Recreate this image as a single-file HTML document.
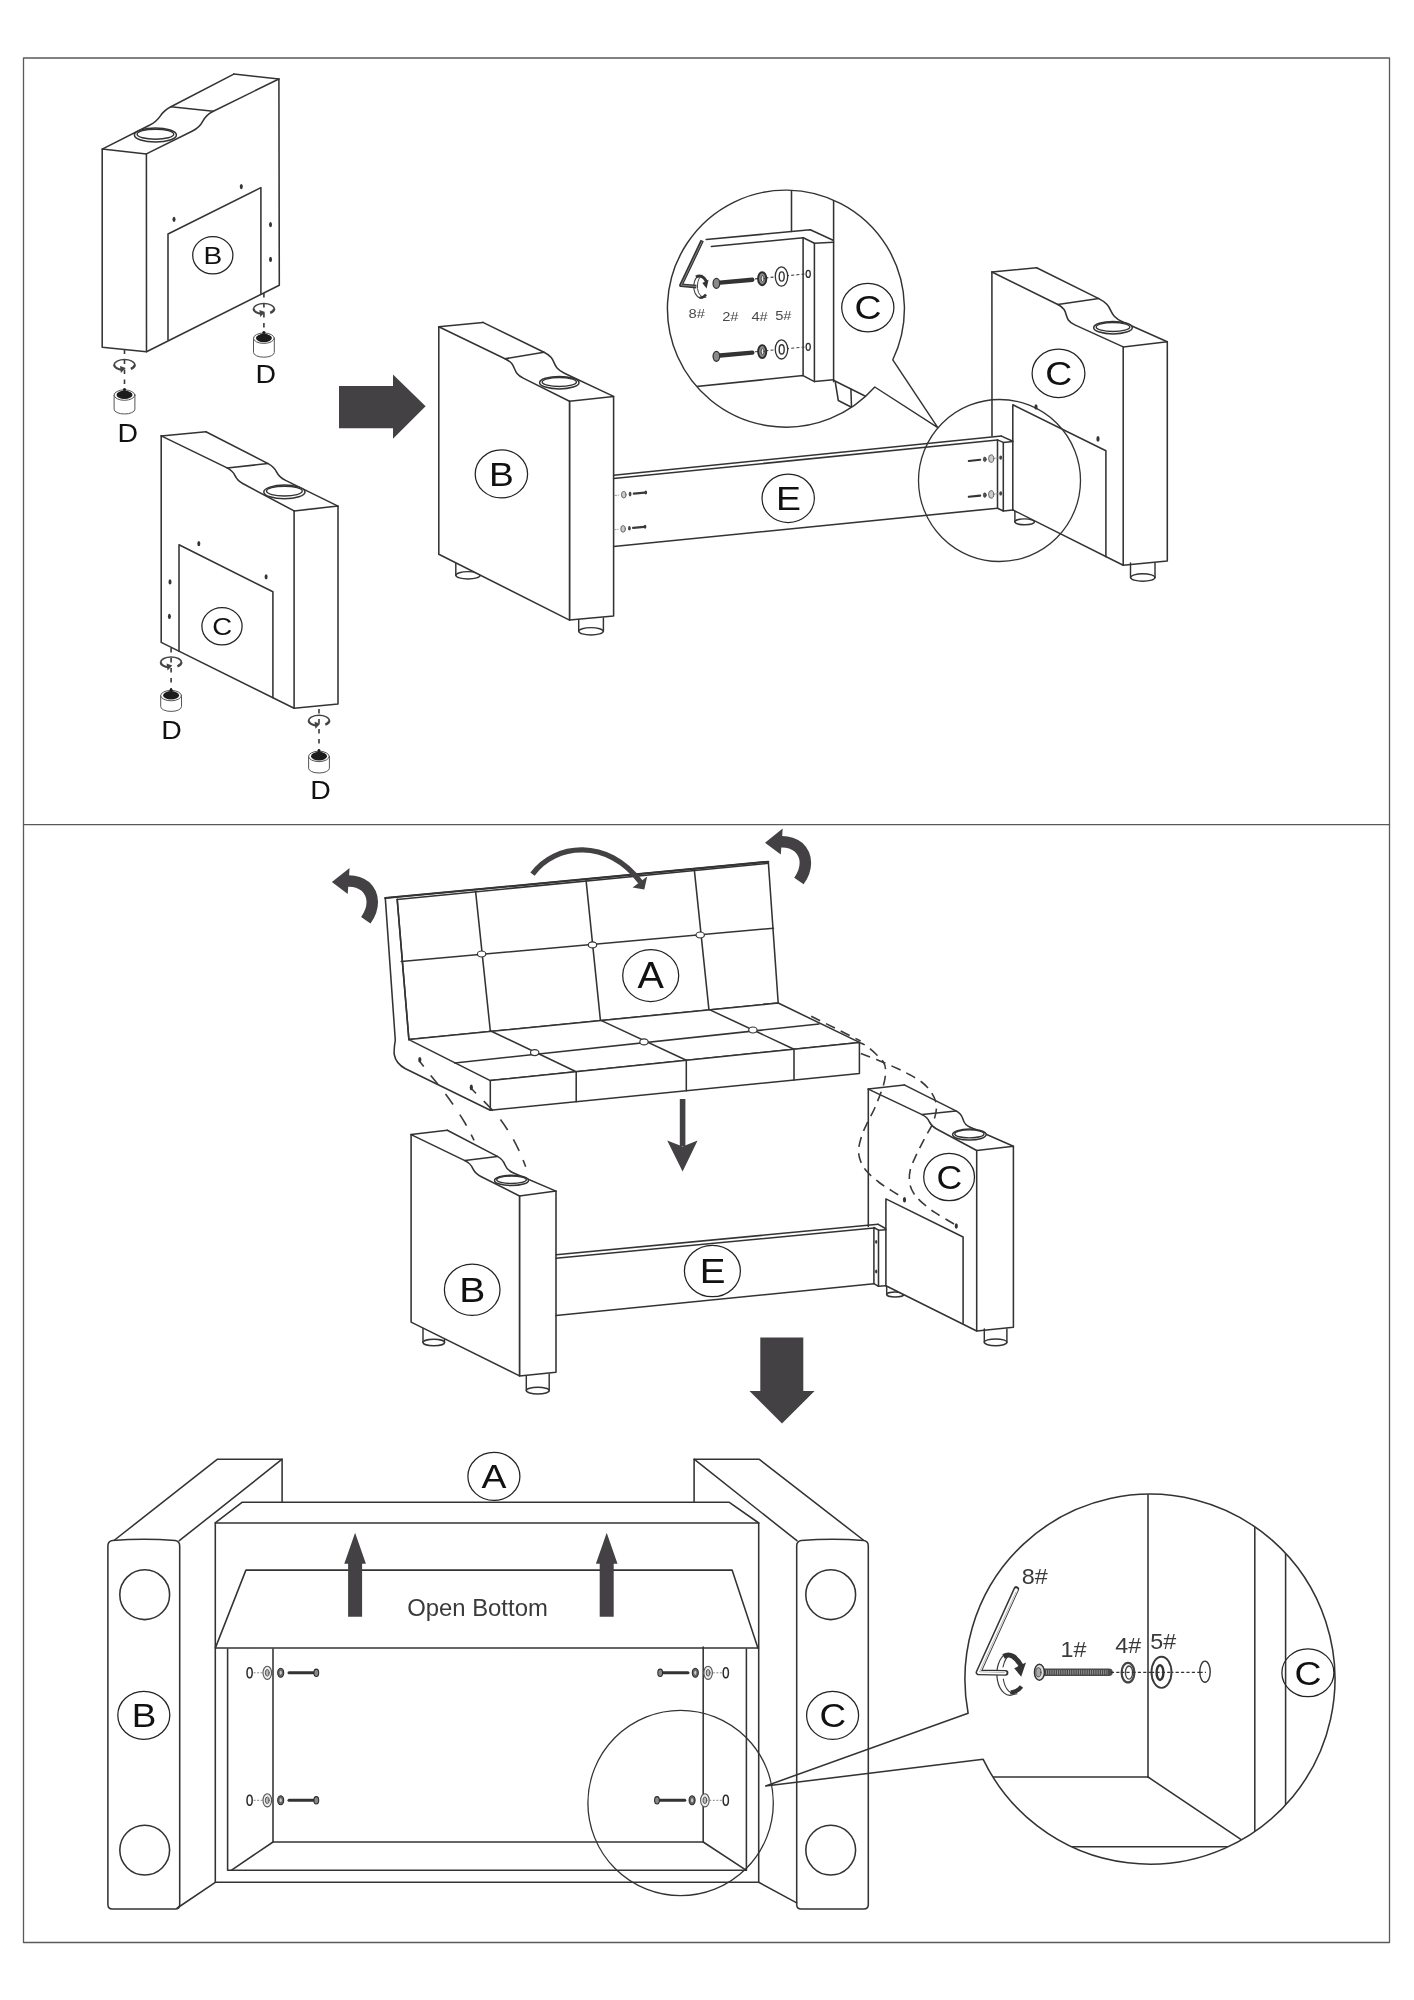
<!DOCTYPE html>
<html lang="en"><head><meta charset="utf-8"><title>Assembly Instructions</title>
<style>
html,body{margin:0;padding:0;background:#fff;}
body{width:1414px;height:2000px;overflow:hidden;}
svg{display:block;font-family:"Liberation Sans",sans-serif;will-change:transform;opacity:0.999;}
</style></head><body>
<svg width="1414" height="2000" viewBox="0 0 1414 2000" fill="none" stroke="#333" stroke-width="1.55" stroke-linejoin="round" stroke-linecap="round">
<rect x="0" y="0" width="1414" height="2000" fill="#fff" stroke="none"/>
<rect x="23.5" y="58" width="1366" height="1884.5" stroke="#5a5a5a" stroke-width="1.3"/>
<line x1="23.5" y1="824.7" x2="1389.5" y2="824.7" stroke="#5a5a5a" stroke-width="1.3"/>
<polygon points="102.2,149.1 102.2,347.3 146.5,351.7 146.4,153.9"/>
<polyline points="146.5,351.7 279.3,285.2 278.9,79"/>
<path d="M102.2 149.1 L149.4 125.3 C163.3 118.3 157.1 114 170.9 106.8 L233.8 74.1"/>
<path d="M146.4 153.9 L192.5 131 C206.6 124 199.1 118.2 213.3 111.2 L278.9 79"/>
<line x1="233.8" y1="74.1" x2="278.9" y2="79"/>
<line x1="170.9" y1="106.8" x2="213.3" y2="111.2"/>
<ellipse cx="155.4" cy="135" rx="21" ry="7" fill="#fff" stroke-width="1.5"/>
<ellipse cx="155.4" cy="134.2" rx="18.3" ry="5" stroke-width="1.4"/>
<polyline points="168,339.9 168,234 260.9,187.6 260.9,293.5"/>
<ellipse cx="241.3" cy="186.6" rx="1.5" ry="2.6" fill="#333" stroke="none"/>
<ellipse cx="174" cy="219.3" rx="1.5" ry="2.6" fill="#333" stroke="none"/>
<ellipse cx="270.5" cy="224.6" rx="1.5" ry="2.6" fill="#333" stroke="none"/>
<ellipse cx="270.5" cy="259.4" rx="1.5" ry="2.6" fill="#333" stroke="none"/>
<ellipse cx="212.8" cy="255.3" rx="20.1" ry="18.6" fill="#fff" stroke-width="1.25" stroke="#222"/>
<text transform="translate(212.8 263.8) scale(1.14 1)" x="0" y="0" font-size="24.6" text-anchor="middle" fill="#111" stroke="none">B</text>
<line x1="124.5" y1="349.5" x2="124.5" y2="388.6" stroke="#3a3a3a" stroke-dasharray="4.6 5.4" stroke-width="1.6" stroke-linecap="butt"/>
<path d="M114.2 364.8 A10.3 5.2 0 0 1 134.8 364.8" stroke="#444" stroke-width="1.5"/>
<path d="M114.2 364.8 A10.3 5.2 0 0 0 122.5 369.9" stroke="#444" stroke-width="2.4" stroke-linecap="butt"/>
<path d="M134.8 364.8 A10.3 5.2 0 0 1 130.8 368.9" stroke="#444" stroke-width="2.4" stroke-linecap="butt"/>
<polygon points="120,366 125.7,368 120.9,373" fill="#444" stroke="none"/>
<path d="M114.1 395.1 L114.1 409.2 A10.4 4.8 0 0 0 134.9 409.2 L134.9 395.1" stroke="#555" stroke-width="1" fill="#fff"/>
<ellipse cx="124.5" cy="395.1" rx="10.4" ry="5.2" fill="#fff" stroke="#555" stroke-width="1"/>
<ellipse cx="124.5" cy="394.9" rx="8" ry="4.2" fill="#1c1c1c" stroke="none"/>
<path d="M118.5 392.9 Q124.5 387.9 130.5 392.9 Z" fill="#1c1c1c" stroke="none"/>
<ellipse cx="124.5" cy="389.5" rx="1.6" ry="1.5" fill="#1c1c1c" stroke="none"/>
<text transform="translate(127.7 442.1) scale(1.12 1)" font-size="25.4" text-anchor="middle" fill="#111" stroke="none">D</text>
<line x1="263.9" y1="293" x2="263.9" y2="331.8" stroke="#3a3a3a" stroke-dasharray="4.6 5.4" stroke-width="1.6" stroke-linecap="butt"/>
<path d="M253.6 308.8 A10.3 5.2 0 0 1 274.2 308.8" stroke="#444" stroke-width="1.5"/>
<path d="M253.6 308.8 A10.3 5.2 0 0 0 261.9 313.9" stroke="#444" stroke-width="2.4" stroke-linecap="butt"/>
<path d="M274.2 308.8 A10.3 5.2 0 0 1 270.2 312.9" stroke="#444" stroke-width="2.4" stroke-linecap="butt"/>
<polygon points="259.4,309.9 265.1,311.9 260.3,316.9" fill="#444" stroke="none"/>
<path d="M253.5 338.2 L253.5 352.4 A10.4 4.8 0 0 0 274.3 352.4 L274.3 338.2" stroke="#555" stroke-width="1" fill="#fff"/>
<ellipse cx="263.9" cy="338.2" rx="10.4" ry="5.2" fill="#fff" stroke="#555" stroke-width="1"/>
<ellipse cx="263.9" cy="338.1" rx="8" ry="4.2" fill="#1c1c1c" stroke="none"/>
<path d="M257.9 336.1 Q263.9 331.1 269.9 336.1 Z" fill="#1c1c1c" stroke="none"/>
<ellipse cx="263.9" cy="332.6" rx="1.6" ry="1.5" fill="#1c1c1c" stroke="none"/>
<text transform="translate(265.8 383) scale(1.12 1)" font-size="25.4" text-anchor="middle" fill="#111" stroke="none">D</text>
<polyline points="161.2,435.9 161.2,642.4 294.1,708.3 294.1,510.9"/>
<polyline points="294.1,708.3 338,704.1 338,506.1 294.1,510.9"/>
<line x1="161.2" y1="435.9" x2="205.9" y2="431.7"/>
<path d="M161.2 435.9 L227.1 467.9 C238 473.2 232 477.8 242.7 483.5 L294.1 510.9"/>
<path d="M205.9 431.7 L268.1 463.6 C279.7 469.5 273.4 474.4 285.1 480.1 L338 506.1"/>
<line x1="227.1" y1="467.9" x2="268.1" y2="463.6"/>
<ellipse cx="284.4" cy="491.9" rx="20.6" ry="6.8" fill="#fff" stroke-width="1.5"/>
<ellipse cx="284.4" cy="491.1" rx="17.9" ry="4.9" stroke-width="1.4"/>
<polyline points="179,651.2 179,544.8 272.9,591.8 272.9,697.6"/>
<ellipse cx="198.8" cy="543.7" rx="1.5" ry="2.6" fill="#333" stroke="none"/>
<ellipse cx="266.1" cy="576.8" rx="1.5" ry="2.6" fill="#333" stroke="none"/>
<ellipse cx="170" cy="581.9" rx="1.5" ry="2.6" fill="#333" stroke="none"/>
<ellipse cx="169.4" cy="616.4" rx="1.5" ry="2.6" fill="#333" stroke="none"/>
<ellipse cx="222" cy="626.3" rx="20.1" ry="18.6" fill="#fff" stroke-width="1.25" stroke="#222"/>
<text transform="translate(222.1 634.8) scale(1.12 1)" x="0" y="0" font-size="24.6" text-anchor="middle" fill="#111" stroke="none">C</text>
<line x1="171.1" y1="648" x2="171.1" y2="689.1" stroke="#3a3a3a" stroke-dasharray="4.6 5.4" stroke-width="1.6" stroke-linecap="butt"/>
<path d="M160.8 662.2 A10.3 5.2 0 0 1 181.4 662.2" stroke="#444" stroke-width="1.5"/>
<path d="M160.8 662.2 A10.3 5.2 0 0 0 169.1 667.3" stroke="#444" stroke-width="2.4" stroke-linecap="butt"/>
<path d="M181.4 662.2 A10.3 5.2 0 0 1 177.4 666.3" stroke="#444" stroke-width="2.4" stroke-linecap="butt"/>
<polygon points="166.6,663.4 172.3,665.4 167.5,670.4" fill="#444" stroke="none"/>
<path d="M160.7 695.6 L160.7 706.6 A10.4 4.8 0 0 0 181.5 706.6 L181.5 695.6" stroke="#555" stroke-width="1" fill="#fff"/>
<ellipse cx="171.1" cy="695.6" rx="10.4" ry="5.2" fill="#fff" stroke="#555" stroke-width="1"/>
<ellipse cx="171.1" cy="695.4" rx="8" ry="4.2" fill="#1c1c1c" stroke="none"/>
<path d="M165.1 693.4 Q171.1 688.4 177.1 693.4 Z" fill="#1c1c1c" stroke="none"/>
<ellipse cx="171.1" cy="690" rx="1.6" ry="1.5" fill="#1c1c1c" stroke="none"/>
<text transform="translate(171.4 738.9) scale(1.12 1)" font-size="25.4" text-anchor="middle" fill="#111" stroke="none">D</text>
<line x1="319" y1="709" x2="319" y2="749.9" stroke="#3a3a3a" stroke-dasharray="4.6 5.4" stroke-width="1.6" stroke-linecap="butt"/>
<path d="M308.7 720.5 A10.3 5.2 0 0 1 329.3 720.5" stroke="#444" stroke-width="1.5"/>
<path d="M308.7 720.5 A10.3 5.2 0 0 0 317 725.6" stroke="#444" stroke-width="2.4" stroke-linecap="butt"/>
<path d="M329.3 720.5 A10.3 5.2 0 0 1 325.3 724.6" stroke="#444" stroke-width="2.4" stroke-linecap="butt"/>
<polygon points="314.5,721.7 320.2,723.7 315.4,728.7" fill="#444" stroke="none"/>
<path d="M308.6 756.4 L308.6 768.2 A10.4 4.8 0 0 0 329.4 768.2 L329.4 756.4" stroke="#555" stroke-width="1" fill="#fff"/>
<ellipse cx="319" cy="756.4" rx="10.4" ry="5.2" fill="#fff" stroke="#555" stroke-width="1"/>
<ellipse cx="319" cy="756.2" rx="8" ry="4.2" fill="#1c1c1c" stroke="none"/>
<path d="M313 754.2 Q319 749.2 325 754.2 Z" fill="#1c1c1c" stroke="none"/>
<ellipse cx="319" cy="750.8" rx="1.6" ry="1.5" fill="#1c1c1c" stroke="none"/>
<text transform="translate(320.5 798.9) scale(1.12 1)" font-size="25.4" text-anchor="middle" fill="#111" stroke="none">D</text>
<polygon points="339,386 393,386 393,374.6 425.6,406.3 393,438.8 393,428.2 339,428.2" fill="#434144" stroke="none"/>
<path d="M455.8 562 L455.8 575.3 M480.2 562 L480.2 575.3" stroke-width="1.45"/>
<ellipse cx="468" cy="575.3" rx="12.2" ry="3.7" stroke-width="1.45"/>
<path d="M578.7 618 L578.7 631.3 M603.4 618 L603.4 631.3" stroke-width="1.45"/>
<ellipse cx="591" cy="631.3" rx="12.3" ry="3.7" stroke-width="1.45"/>
<polygon points="569.5,620.1 613.6,616 613.6,396.4 569.5,401.2" fill="#fff"/>
<polyline points="438.8,326.8 438.8,554.3 569.5,620.1 569.5,401.2" fill="#fff"/>
<line x1="438.8" y1="326.8" x2="482.9" y2="322.4"/>
<path d="M438.8 326.8 L505 358.7 C518.5 365.2 510.3 371.7 523.7 378.4 L569.5 401.2"/>
<path d="M482.9 322.4 L544 352.3 C558.5 359.4 549.8 366.5 564.4 373.3 L613.6 396.4"/>
<line x1="505" y1="358.7" x2="544" y2="352.3"/>
<ellipse cx="559.3" cy="382.7" rx="19.7" ry="6.2" fill="#fff" stroke-width="1.5"/>
<ellipse cx="559.3" cy="382" rx="17.1" ry="4.5" stroke-width="1.4"/>
<ellipse cx="501.4" cy="473.9" rx="26.2" ry="24" fill="#fff" stroke-width="1.25" stroke="#222"/>
<text transform="translate(501.5 485.6) scale(1.1 1)" x="0" y="0" font-size="33.8" text-anchor="middle" fill="#111" stroke="none">B</text>
<line x1="613.6" y1="475.2" x2="1001.4" y2="436.1"/>
<line x1="613.6" y1="478.6" x2="997.5" y2="439.9"/>
<line x1="613.6" y1="546.5" x2="997.5" y2="508.2"/>
<ellipse cx="788.2" cy="498.3" rx="26.2" ry="24.2" fill="#fff" stroke-width="1.25" stroke="#222"/>
<text transform="translate(788.4 510.1) scale(1.1 1)" x="0" y="0" font-size="34" text-anchor="middle" fill="#111" stroke="none">E</text>
<line x1="614.8" y1="495.5" x2="618.8" y2="495.1" stroke="#888" stroke-width="0.8" stroke-dasharray="2 1.5"/>
<ellipse cx="623.8" cy="494.7" rx="2.3" ry="3.3" stroke="#666" stroke-width="1" fill="#ccc"/>
<ellipse cx="630.1" cy="494.1" rx="1.4" ry="2.3" fill="#444" stroke="none"/>
<line x1="633.8" y1="493.7" x2="644.8" y2="492.7" stroke="#3a3a3a" stroke-width="2.2"/>
<ellipse cx="645.8" cy="492.6" rx="1.3" ry="2" fill="#3a3a3a" stroke="none"/>
<line x1="614.1" y1="529.7" x2="618.1" y2="529.3" stroke="#888" stroke-width="0.8" stroke-dasharray="2 1.5"/>
<ellipse cx="623.1" cy="528.9" rx="2.3" ry="3.3" stroke="#666" stroke-width="1" fill="#ccc"/>
<ellipse cx="629.4" cy="528.3" rx="1.4" ry="2.3" fill="#444" stroke="none"/>
<line x1="633.1" y1="527.9" x2="644.1" y2="526.9" stroke="#3a3a3a" stroke-width="2.2"/>
<ellipse cx="645.1" cy="526.8" rx="1.3" ry="2" fill="#3a3a3a" stroke="none"/>
<path d="M1130.5 563 L1130.5 577.5 M1155 563 L1155 577.5" stroke-width="1.45"/>
<ellipse cx="1142.8" cy="577.5" rx="12.2" ry="3.7" stroke-width="1.45"/>
<path d="M1014.9 510 L1014.9 521.8 M1034.5 510 L1034.5 521.8" stroke-width="1.45"/>
<ellipse cx="1024.7" cy="521.8" rx="9.8" ry="2.9" stroke-width="1.45"/>
<line x1="992" y1="435.9" x2="991.9" y2="272"/>
<path d="M991.9 272 L1057.8 304.5 C1070.9 311 1061.5 318.9 1074.8 324.9 L1123.2 346.9"/>
<polyline points="1123.2,346.9 1123.2,565.3 1167.3,561 1167.3,341.8 1123.2,346.9"/>
<line x1="991.9" y1="272" x2="1036.6" y2="267.7"/>
<path d="M1036.6 267.7 L1098.8 298.6 C1115.3 306.8 1106 314.5 1122.9 322 L1167.3 341.8"/>
<line x1="1057.8" y1="304.5" x2="1098.8" y2="298.6"/>
<ellipse cx="1113" cy="327.7" rx="19.3" ry="6.2" fill="#fff" stroke-width="1.5"/>
<ellipse cx="1113" cy="327" rx="16.8" ry="4.5" stroke-width="1.4"/>
<polyline points="1012.8,509.9 1012.8,404.7 1105.9,450.7 1105.9,556.8" fill="#fff"/>
<line x1="1012.8" y1="509.9" x2="1123.2" y2="565.3"/>
<ellipse cx="1036" cy="407" rx="1.6" ry="2.8" fill="#333" stroke="none"/>
<ellipse cx="1098" cy="438.9" rx="1.6" ry="2.8" fill="#333" stroke="none"/>
<ellipse cx="1058.5" cy="373.4" rx="26.4" ry="24.3" fill="#fff" stroke-width="1.25" stroke="#222"/>
<text transform="translate(1058.7 385.2) scale(1.1 1)" x="0" y="0" font-size="34" text-anchor="middle" fill="#111" stroke="none">C</text>
<polyline points="997.5,439.9 1003.3,442.4 1003.3,511 997.5,508.2 997.5,439.9"/>
<polyline points="1001.4,436.1 1012.8,441.2"/>
<line x1="1003.3" y1="442.4" x2="1012.8" y2="441.6"/>
<line x1="1003.3" y1="511" x2="1012.8" y2="509.9"/>
<line x1="968.8" y1="461" x2="980.2" y2="459.8" stroke="#333" stroke-width="2.1" stroke-linecap="round"/>
<ellipse cx="984.8" cy="459.3" rx="1.5" ry="2.3" fill="#555" stroke="#333" stroke-width="0.6"/>
<ellipse cx="991.2" cy="458.6" rx="2.6" ry="3.8" stroke="#666" stroke-width="1" fill="#ccc"/>
<line x1="994.5" y1="458.3" x2="998.5" y2="457.8" stroke="#888" stroke-width="0.7"/>
<ellipse cx="1000.7" cy="457.6" rx="1.4" ry="2.2" fill="#444" stroke="none"/>
<line x1="968.8" y1="496.8" x2="980.2" y2="495.6" stroke="#333" stroke-width="2.1" stroke-linecap="round"/>
<ellipse cx="984.8" cy="495.1" rx="1.5" ry="2.3" fill="#555" stroke="#333" stroke-width="0.6"/>
<ellipse cx="991.2" cy="494.4" rx="2.6" ry="3.8" stroke="#666" stroke-width="1" fill="#ccc"/>
<line x1="994.5" y1="494.1" x2="998.5" y2="493.6" stroke="#888" stroke-width="0.7"/>
<ellipse cx="1000.7" cy="493.4" rx="1.4" ry="2.2" fill="#444" stroke="none"/>
<ellipse cx="999.5" cy="480.5" rx="81" ry="81" stroke-width="1.3"/>
<clipPath id="c1"><circle cx="786" cy="308.5" r="118.5"/></clipPath>
<path d="M892.8 359.8 L937.8 427.7 L874.8 387 A118.5 118.5 0 1 1 892.8 359.8" fill="#fff" stroke-width="1.45"/>
<g clip-path="url(#c1)">
<line x1="791.5" y1="185" x2="791.5" y2="231.4"/>
<line x1="833.6" y1="195" x2="833.6" y2="381.6"/>
<polyline points="706.2,239.5 810.3,229.8 833.1,240.2"/>
<polyline points="711.3,246.5 803.3,237.8 814.4,243.2 833.6,242.3"/>
<line x1="803.1" y1="238.1" x2="803.1" y2="375.6"/>
<line x1="814.4" y1="243.4" x2="814.4" y2="381.6"/>
<polyline points="660,390.3 803.1,375.6 814.4,381.6 833.6,379.7"/>
<polyline points="835.3,382.2 838.3,400.5 851.5,407.2"/>
<line x1="850.9" y1="389" x2="851.5" y2="407.2"/>
<line x1="834.4" y1="380.7" x2="868" y2="397.5"/>
</g>
<ellipse cx="867.8" cy="307.6" rx="26.1" ry="24.2" fill="#fff" stroke-width="1.25" stroke="#222"/>
<text transform="translate(867.9 319.3) scale(1.1 1)" x="0" y="0" font-size="34" text-anchor="middle" fill="#111" stroke="none">C</text>
<line x1="755" y1="278.9" x2="806" y2="273.9" stroke="#444" stroke-width="1.1" stroke-dasharray="3 2.2" stroke-linecap="butt"/>
<line x1="720" y1="282.6" x2="752.3" y2="279.7" stroke="#333" stroke-width="4.4" stroke-linecap="round"/>
<ellipse cx="716.4" cy="283.4" rx="3.3" ry="5" fill="#8a8a8a" stroke="#333" stroke-width="1.3"/>
<ellipse cx="762.2" cy="278.7" rx="4.1" ry="6.5" fill="#8a8a8a" stroke="#2c2c2c" stroke-width="1.9"/>
<ellipse cx="762.6" cy="278.7" rx="1.5" ry="3" fill="#e8e8e8" stroke="#333" stroke-width="0.9"/>
<ellipse cx="781.5" cy="276.5" rx="6.2" ry="9.6" fill="#fff" stroke="#333" stroke-width="1.3"/>
<ellipse cx="781.7" cy="276.5" rx="2.5" ry="4.6" fill="#fff" stroke="#333" stroke-width="1.4"/>
<ellipse cx="808.2" cy="273.9" rx="2.1" ry="3.5" fill="#fff" stroke="#333" stroke-width="1.3"/>
<line x1="755" y1="351.8" x2="806" y2="346.8" stroke="#444" stroke-width="1.1" stroke-dasharray="3 2.2" stroke-linecap="butt"/>
<line x1="720" y1="355.5" x2="752.3" y2="352.6" stroke="#333" stroke-width="4.4" stroke-linecap="round"/>
<ellipse cx="716.4" cy="356.3" rx="3.3" ry="5" fill="#8a8a8a" stroke="#333" stroke-width="1.3"/>
<ellipse cx="762.2" cy="351.6" rx="4.1" ry="6.5" fill="#8a8a8a" stroke="#2c2c2c" stroke-width="1.9"/>
<ellipse cx="762.6" cy="351.6" rx="1.5" ry="3" fill="#e8e8e8" stroke="#333" stroke-width="0.9"/>
<ellipse cx="781.5" cy="349.4" rx="6.2" ry="9.6" fill="#fff" stroke="#333" stroke-width="1.3"/>
<ellipse cx="781.7" cy="349.4" rx="2.5" ry="4.6" fill="#fff" stroke="#333" stroke-width="1.4"/>
<ellipse cx="808.2" cy="346.8" rx="2.1" ry="3.5" fill="#fff" stroke="#333" stroke-width="1.3"/>
<path d="M699 275.5 A7 11 0 1 0 703 297.5" stroke="#444" stroke-width="1.1"/>
<path d="M702 275.5 A7 11 0 0 0 697.5 285 L697.5 288.5 A7 11 0 0 0 706 297.3" stroke="#444" stroke-width="1"/>
<path d="M696 277 Q702 273.5 706.5 281.5" stroke="#333" stroke-width="3" stroke-linecap="butt"/>
<polygon points="702.3,283 708.6,279.8 706.6,288.6" fill="#333" stroke="none"/>
<path d="M699.5 297.6 Q703.5 298 706 294.5" stroke="#333" stroke-width="2.4" stroke-linecap="butt"/>
<polyline points="702.2,240.6 680.9,285.3 696.4,286.6" stroke="#333" stroke-width="3.6" stroke-linecap="butt"/>
<polyline points="702,241.5 681.2,285.1 696,286.5" stroke="#999" stroke-width="0.8" stroke-linecap="butt"/>
<text transform="translate(688.6 317.8) scale(1.08 1)" font-size="13.6" text-anchor="start" fill="#4a4a4a" stroke="none">8#</text>
<text transform="translate(722.2 321.2) scale(1.08 1)" font-size="13.6" text-anchor="start" fill="#4a4a4a" stroke="none">2#</text>
<text transform="translate(751.4 321.2) scale(1.08 1)" font-size="13.6" text-anchor="start" fill="#4a4a4a" stroke="none">4#</text>
<text transform="translate(775.2 320.4) scale(1.08 1)" font-size="13.6" text-anchor="start" fill="#4a4a4a" stroke="none">5#</text>
<path d="M423 1328 L423 1342.5 M444.5 1328 L444.5 1342.5" stroke-width="1.45"/>
<ellipse cx="433.8" cy="1342.5" rx="10.8" ry="3.2" stroke-width="1.45"/>
<path d="M526.3 1374 L526.3 1390.6 M549.2 1374 L549.2 1390.6" stroke-width="1.45"/>
<ellipse cx="537.8" cy="1390.6" rx="11.5" ry="3.4" stroke-width="1.45"/>
<polygon points="519.5,1375.9 556,1372.2 556,1191.1 519.5,1196" fill="#fff"/>
<polyline points="411.1,1134.6 411.1,1322.1 519.5,1375.9 519.5,1196" fill="#fff"/>
<line x1="411.1" y1="1134.6" x2="447.3" y2="1130.3"/>
<path d="M411.1 1134.6 L464.9 1160.6 C475.8 1165.9 469.6 1170.7 480.4 1176.2 L519.5 1196"/>
<path d="M447.3 1130.3 L497.4 1156.4 C508.4 1162.2 501.5 1167.9 513 1172.8 L556 1191.1"/>
<line x1="464.9" y1="1160.6" x2="497.4" y2="1156.4"/>
<ellipse cx="511.5" cy="1180.4" rx="17" ry="5.2" fill="#fff" stroke-width="1.5"/>
<ellipse cx="511.5" cy="1179.8" rx="14.8" ry="3.7" stroke-width="1.4"/>
<ellipse cx="472.2" cy="1289.7" rx="27.8" ry="25.7" fill="#fff" stroke-width="1.25" stroke="#222"/>
<text transform="translate(472.3 1302) scale(1.1 1)" x="0" y="0" font-size="35.5" text-anchor="middle" fill="#111" stroke="none">B</text>
<line x1="556" y1="1254.8" x2="878.2" y2="1224.3"/>
<line x1="556" y1="1258.2" x2="873.9" y2="1228.1"/>
<line x1="556" y1="1315.6" x2="873.9" y2="1283.7"/>
<ellipse cx="712.4" cy="1271" rx="28" ry="25.7" fill="#fff" stroke-width="1.25" stroke="#222"/>
<text transform="translate(712.5 1283.1) scale(1.1 1)" x="0" y="0" font-size="35" text-anchor="middle" fill="#111" stroke="none">E</text>
<path d="M984.3 1329 L984.3 1342.3 M1006.9 1329 L1006.9 1342.3" stroke-width="1.45"/>
<ellipse cx="995.6" cy="1342.3" rx="11.3" ry="3.4" stroke-width="1.45"/>
<path d="M886.7 1285 L886.7 1294.5 M903.7 1285 L903.7 1294.5" stroke-width="1.45"/>
<ellipse cx="895.2" cy="1294.5" rx="8.5" ry="2.5" stroke-width="1.45"/>
<line x1="868.3" y1="1226.5" x2="868.3" y2="1089.1"/>
<path d="M868.3 1089.1 L922.1 1114.6 C932 1119.3 926.5 1123.5 936.2 1128.7 L976.7 1150.5"/>
<polyline points="976.7,1150.5 976.7,1331 1013.4,1327.3 1013.4,1146.3 976.7,1150.5"/>
<line x1="868.3" y1="1089.1" x2="904.2" y2="1084.9"/>
<path d="M904.2 1084.9 L956 1110.9 C966.7 1116.3 959.3 1122.5 970.2 1127.3 L1013.4 1146.3"/>
<line x1="922.1" y1="1114.6" x2="956" y2="1110.9"/>
<ellipse cx="969.4" cy="1134.6" rx="16.8" ry="5.5" fill="#fff" stroke-width="1.5"/>
<ellipse cx="969.4" cy="1133.9" rx="14.6" ry="4" stroke-width="1.4"/>
<polyline points="885.9,1285.7 885.9,1198.9 963.1,1237 963.1,1323.3" fill="#fff"/>
<line x1="885.9" y1="1285.7" x2="976.7" y2="1331"/>
<ellipse cx="904.5" cy="1199.7" rx="1.6" ry="2.8" fill="#333" stroke="none"/>
<ellipse cx="956.3" cy="1226" rx="1.6" ry="2.8" fill="#333" stroke="none"/>
<ellipse cx="949.1" cy="1177" rx="25.4" ry="23.6" fill="#fff" stroke-width="1.25" stroke="#222"/>
<text transform="translate(949.3 1188.5) scale(1.08 1)" x="0" y="0" font-size="33" text-anchor="middle" fill="#111" stroke="none">C</text>
<polyline points="878.2,1224.3 885.5,1228.5"/>
<polyline points="873.9,1227.5 878.5,1230.2 878.5,1286.3 873.9,1283.7 873.9,1227.5"/>
<line x1="878.5" y1="1230.2" x2="885.9" y2="1229.8"/>
<line x1="878.5" y1="1286.3" x2="885.9" y2="1285.7"/>
<ellipse cx="876.2" cy="1241.8" rx="1.1" ry="1.9" fill="#333" stroke="none"/>
<ellipse cx="876.2" cy="1271.5" rx="1.1" ry="1.9" fill="#333" stroke="none"/>
<polyline points="385.3,898.1 768.3,861.7 778.2,1003 408.9,1039.6 397.2,899.2" fill="#fff"/>
<polyline points="385.3,898.1 768.3,861.7" stroke-width="2"/>
<line x1="397.2" y1="899.4" x2="768.3" y2="863.3"/>
<path d="M385.3 898.1 L395.3 1040.2 C394.3 1046 393.6 1051 394.4 1055 C395.4 1061 399.5 1065.5 405.5 1068.8 L490.3 1110.3" fill="none"/>
<line x1="397.2" y1="899.4" x2="408.9" y2="1039.6"/>
<polygon points="408.9,1039.6 778.2,1003 859.4,1042.4 490.3,1080.6" fill="#fff"/>
<polygon points="490.3,1080.6 859.4,1042.4 859.4,1073.6 490.3,1110.3" fill="#fff"/>
<line x1="475.6" y1="891.4" x2="490.3" y2="1030.8"/>
<line x1="586.1" y1="880.7" x2="600.4" y2="1020.1"/>
<line x1="694.3" y1="869.6" x2="708.9" y2="1009.4"/>
<line x1="401.2" y1="961.5" x2="773.5" y2="928.2"/>
<line x1="454.7" y1="1062.9" x2="819" y2="1024"/>
<polyline points="490.3,1030.8 576.2,1071.7 576.2,1101.8"/>
<polyline points="600.4,1020.1 686.3,1060.3 686.3,1090.8"/>
<polyline points="708.9,1009.4 794,1049.2 794,1080.1"/>
<ellipse cx="481.6" cy="954" rx="4.2" ry="3" fill="#fff" stroke-width="1.2"/>
<ellipse cx="592.5" cy="944.9" rx="4.2" ry="3" fill="#fff" stroke-width="1.2"/>
<ellipse cx="700.2" cy="935" rx="4.2" ry="3" fill="#fff" stroke-width="1.2"/>
<ellipse cx="534.7" cy="1052.6" rx="4.2" ry="3" fill="#fff" stroke-width="1.2"/>
<ellipse cx="644" cy="1041.9" rx="4.2" ry="3" fill="#fff" stroke-width="1.2"/>
<ellipse cx="752.9" cy="1030" rx="4.2" ry="3" fill="#fff" stroke-width="1.2"/>
<ellipse cx="419.8" cy="1059.7" rx="1.6" ry="2.8" fill="#333" stroke="none"/>
<ellipse cx="471.3" cy="1087.4" rx="1.6" ry="2.8" fill="#333" stroke="none"/>
<ellipse cx="650.7" cy="975.5" rx="28" ry="26" fill="#fff" stroke-width="1.25" stroke="#222"/>
<text transform="translate(650.8 988.3) scale(1.07 1)" x="0" y="0" font-size="37" text-anchor="middle" fill="#111" stroke="none">A</text>
<path d="M419.8 1061.5 C421.8 1064.1 428.5 1072.6 432 1077 C435.5 1081.4 437.7 1083.7 441 1088 C444.3 1092.3 448 1097.2 452 1103 C456 1108.8 461 1116.1 465 1123 C469 1129.9 474.3 1140.9 476.2 1144.5" stroke-dasharray="6.5 11 11.5 12.5 13 12 13 10" stroke-width="1.6" stroke-linecap="butt" stroke="#3a3a3a"/>
<path d="M471.1 1088.3 C472.6 1089.8 477 1094.5 480 1097.5 C483 1100.5 485.7 1102.9 489 1106.5 C492.3 1110.1 496.2 1113.9 500 1119 C503.8 1124.1 508.5 1131 512 1137 C515.5 1143 518.2 1148.8 521 1155 C523.8 1161.2 527.2 1171 528.5 1174.2" stroke-dasharray="7 11 13.5 11.5 12.5 11 13 10" stroke-width="1.6" stroke-linecap="butt" stroke="#3a3a3a"/>
<path d="M811.2 1016.2 L860.6 1041" stroke-dasharray="10 6.5" stroke-width="1.6" stroke-linecap="butt" stroke="#3a3a3a"/>
<path d="M859.4 1042.4 C860.6 1043 863.7 1044 866.5 1046 C869.3 1048 873.6 1051.8 876.4 1054.5 C879.2 1057.2 882 1059.5 883.5 1062.2 C885 1064.9 885.6 1066.9 885.6 1070.7 C885.6 1074.5 885.3 1078.8 883.5 1084.9 C881.7 1091 877.6 1101.4 875 1107.5 C872.4 1113.6 870 1117.1 867.9 1121.6 C865.8 1126.1 863.7 1129.9 862.2 1134.4 C860.7 1138.9 859.1 1144.3 858.7 1148.5 C858.4 1152.7 858.8 1156 860.1 1159.8 C861.4 1163.6 863.3 1167.3 866.5 1171.1 C869.7 1174.9 875 1179.2 879.2 1182.5 C883.4 1185.8 887.6 1188.2 891.9 1190.9 C896.1 1193.6 902.6 1197.4 904.7 1198.7" stroke-dashoffset="4" stroke-dasharray="10 6.5" stroke-width="1.6" stroke-linecap="butt" stroke="#3a3a3a"/>
<path d="M860.8 1053.5 C863.4 1054.5 870 1056.8 876.4 1059.4 C882.8 1062 893.4 1066.7 899 1069.3 C904.6 1071.9 906.5 1072.9 910.3 1075 C914.1 1077.1 918.3 1079.4 921.6 1082 C924.9 1084.6 927.7 1087.2 930.1 1090.5 C932.5 1093.8 934.8 1098.2 935.8 1101.8 C936.8 1105.4 936.6 1108.2 936 1112 C935.4 1115.8 934.1 1120.1 932.2 1124.5 C930.3 1128.9 927.2 1133.4 924.5 1138.6 C921.8 1143.8 918.4 1150.4 916 1155.6 C913.6 1160.8 911.4 1165.2 910.3 1169.7 C909.2 1174.2 909.1 1178.7 909.6 1182.5 C910.1 1186.3 911.4 1189.4 913.2 1192.4 C915 1195.5 916.7 1197.5 920.2 1200.8 C923.7 1204.1 929.7 1208.9 934.4 1212.2 C939.1 1215.5 945 1218.6 948.5 1220.7 C952 1222.8 954.4 1224.2 955.6 1224.9" stroke-dasharray="10 6.5" stroke-width="1.6" stroke-linecap="butt" stroke="#3a3a3a"/>
<path d="M365.8 920.3 C374.5 908 374.5 895 365.5 886.5 C360.5 882.5 354 880.6 347 881" stroke="#434144" stroke-width="11.5" stroke-linecap="butt"/>
<polygon points="331.9,882.1 349.6,867.9 347.7,893.9" fill="#434144" stroke="none"/>
<path d="M798.9 881 C807.6 868.7 807.6 855.7 798.6 847.2 C793.6 843.2 787.1 841.3 780.1 841.7" stroke="#434144" stroke-width="11.5" stroke-linecap="butt"/>
<polygon points="765,842.8 782.7,828.6 780.8,854.6" fill="#434144" stroke="none"/>
<path d="M532.5 874.1 C555 843 608 838 640.5 882" stroke="#434144" stroke-width="5.3" stroke-linecap="butt"/>
<polygon points="644.3,889.4 632.6,887.6 647.2,876.6" fill="#434144" stroke="none"/>
<line x1="682.6" y1="1099" x2="682.6" y2="1146" stroke="#434144" stroke-width="5.6" stroke-linecap="butt"/>
<polygon points="667.2,1140.5 682.6,1146.5 697.6,1140.5 682.6,1171.5" fill="#434144" stroke="none"/>
<polygon points="760.3,1337.5 803.3,1337.5 803.3,1391 814.6,1391 782,1423.5 749.5,1391 760.3,1391" fill="#434144" stroke="none"/>
<polyline points="114.6,1540 217.5,1459.2 282.1,1459.2 282.1,1502.2"/>
<line x1="179.3" y1="1540.7" x2="282.1" y2="1459.2"/>
<polyline points="694.1,1502.2 694.1,1459.2 759,1459.2 863.3,1540"/>
<line x1="694.1" y1="1459.2" x2="796.9" y2="1540.7"/>
<path d="M107.9 1546.1 Q107.9 1541.2 112.4 1540.6 Q143.8 1537.8 175.2 1540.6 Q179.7 1541.2 179.7 1546.1 L179.7 1904.4 Q179.7 1908.9 175.2 1908.9 L112.4 1908.9 Q107.9 1908.9 107.9 1904.4 Z" fill="#fff"/>
<path d="M796.7 1546.1 Q796.7 1541.2 801.2 1540.6 Q832.5 1537.8 863.8 1540.6 Q868.3 1541.2 868.3 1546.1 L868.3 1904.4 Q868.3 1908.9 863.8 1908.9 L801.2 1908.9 Q796.7 1908.9 796.7 1904.4 Z" fill="#fff"/>
<line x1="177.3" y1="1908" x2="215.3" y2="1882.3"/>
<line x1="796.7" y1="1902.9" x2="758.7" y2="1882.3"/>
<ellipse cx="144.7" cy="1594.7" rx="24.9" ry="24.9"/>
<ellipse cx="144.7" cy="1850.1" rx="24.9" ry="24.9"/>
<ellipse cx="830.7" cy="1594.7" rx="24.9" ry="24.9"/>
<ellipse cx="830.7" cy="1850.1" rx="24.9" ry="24.9"/>
<ellipse cx="143.8" cy="1715.3" rx="26" ry="24" fill="#fff" stroke-width="1.25" stroke="#222"/>
<text transform="translate(144 1727) scale(1.1 1)" x="0" y="0" font-size="33.5" text-anchor="middle" fill="#111" stroke="none">B</text>
<ellipse cx="832.6" cy="1715.4" rx="26" ry="24" fill="#fff" stroke-width="1.25" stroke="#222"/>
<text transform="translate(832.7 1727) scale(1.1 1)" x="0" y="0" font-size="33.5" text-anchor="middle" fill="#111" stroke="none">C</text>
<polygon points="215.3,1523 758.7,1523 758.7,1882.3 215.3,1882.3"/>
<polyline points="215.2,1522.8 242,1502.3 729.3,1502.3 758.8,1523"/>
<polyline points="215.4,1647.9 245.9,1570.1 732.1,1570.1 757.9,1647.9"/>
<line x1="215.4" y1="1647.9" x2="758.5" y2="1647.9"/>
<polyline points="227.6,1649 227.6,1870.3 746.4,1870.3 746.4,1649"/>
<polyline points="273,1649 273,1842 703.2,1842 703.2,1646.9"/>
<line x1="273" y1="1842" x2="231.2" y2="1870.3"/>
<line x1="703.2" y1="1842" x2="746.4" y2="1870.3"/>
<ellipse cx="493.9" cy="1476.4" rx="26" ry="24" fill="#fff" stroke-width="1.25" stroke="#222"/>
<text transform="translate(494 1488.2) scale(1.1 1)" x="0" y="0" font-size="34" text-anchor="middle" fill="#111" stroke="none">A</text>
<text x="407.2" y="1615.8" font-size="23.4" textLength="140.6" lengthAdjust="spacingAndGlyphs" fill="#3a3a3a" stroke="none">Open Bottom</text>
<polygon points="355.1,1532.7 365.9,1563.8 362.1,1563.8 362.1,1616.8 348.1,1616.8 348.1,1563.8 344.3,1563.8" fill="#434144" stroke="none"/>
<polygon points="606.7,1532.7 617.5,1563.8 613.7,1563.8 613.7,1616.8 599.7,1616.8 599.7,1563.8 595.9,1563.8" fill="#434144" stroke="none"/>
<ellipse cx="249.6" cy="1672.8" rx="2.6" ry="5" stroke="#2c2c2c" stroke-width="1.5" fill="#fff"/>
<line x1="253.6" y1="1672.8" x2="262.3" y2="1672.8" stroke="#777" stroke-width="0.9" stroke-dasharray="2 1.5" stroke-linecap="butt"/>
<ellipse cx="267.3" cy="1672.8" rx="4.3" ry="6.6" stroke="#555" stroke-width="1.1" fill="#eee"/>
<ellipse cx="267.3" cy="1672.8" rx="1.9" ry="3.3" stroke="#555" stroke-width="1" fill="#bbb"/>
<ellipse cx="280.7" cy="1672.8" rx="3" ry="4.5" fill="#666" stroke="#2c2c2c" stroke-width="1.1"/>
<ellipse cx="280.7" cy="1672.8" rx="1.1" ry="2" fill="#ccc" stroke="none"/>
<line x1="289" y1="1672.8" x2="313.5" y2="1672.8" stroke="#333" stroke-width="3" stroke-linecap="round"/>
<ellipse cx="316.3" cy="1672.8" rx="2.4" ry="3.7" fill="#888" stroke="#2c2c2c" stroke-width="1.1"/>
<ellipse cx="249.6" cy="1800.3" rx="2.6" ry="5" stroke="#2c2c2c" stroke-width="1.5" fill="#fff"/>
<line x1="253.6" y1="1800.3" x2="262.3" y2="1800.3" stroke="#777" stroke-width="0.9" stroke-dasharray="2 1.5" stroke-linecap="butt"/>
<ellipse cx="267.3" cy="1800.3" rx="4.3" ry="6.6" stroke="#555" stroke-width="1.1" fill="#eee"/>
<ellipse cx="267.3" cy="1800.3" rx="1.9" ry="3.3" stroke="#555" stroke-width="1" fill="#bbb"/>
<ellipse cx="280.7" cy="1800.3" rx="3" ry="4.5" fill="#666" stroke="#2c2c2c" stroke-width="1.1"/>
<ellipse cx="280.7" cy="1800.3" rx="1.1" ry="2" fill="#ccc" stroke="none"/>
<line x1="289" y1="1800.3" x2="313.5" y2="1800.3" stroke="#333" stroke-width="3" stroke-linecap="round"/>
<ellipse cx="316.3" cy="1800.3" rx="2.4" ry="3.7" fill="#888" stroke="#2c2c2c" stroke-width="1.1"/>
<ellipse cx="725.8" cy="1672.8" rx="2.6" ry="5" stroke="#2c2c2c" stroke-width="1.5" fill="#fff"/>
<line x1="721.8" y1="1672.8" x2="713.1" y2="1672.8" stroke="#777" stroke-width="0.9" stroke-dasharray="2 1.5" stroke-linecap="butt"/>
<ellipse cx="708.1" cy="1672.8" rx="4.3" ry="6.6" stroke="#555" stroke-width="1.1" fill="#eee"/>
<ellipse cx="708.1" cy="1672.8" rx="1.9" ry="3.3" stroke="#555" stroke-width="1" fill="#bbb"/>
<ellipse cx="695.3" cy="1672.8" rx="3" ry="4.5" fill="#666" stroke="#2c2c2c" stroke-width="1.1"/>
<ellipse cx="695.3" cy="1672.8" rx="1.1" ry="2" fill="#ccc" stroke="none"/>
<line x1="688" y1="1672.8" x2="663" y2="1672.8" stroke="#333" stroke-width="3" stroke-linecap="round"/>
<ellipse cx="660.2" cy="1672.8" rx="2.4" ry="3.7" fill="#888" stroke="#2c2c2c" stroke-width="1.1"/>
<ellipse cx="725.8" cy="1800.3" rx="2.6" ry="5" stroke="#2c2c2c" stroke-width="1.5" fill="#fff"/>
<line x1="721.8" y1="1800.3" x2="709.9" y2="1800.3" stroke="#777" stroke-width="0.9" stroke-dasharray="2 1.5" stroke-linecap="butt"/>
<ellipse cx="704.9" cy="1800.3" rx="4.3" ry="6.6" stroke="#555" stroke-width="1.1" fill="#eee"/>
<ellipse cx="704.9" cy="1800.3" rx="1.9" ry="3.3" stroke="#555" stroke-width="1" fill="#bbb"/>
<ellipse cx="692.1" cy="1800.3" rx="3" ry="4.5" fill="#666" stroke="#2c2c2c" stroke-width="1.1"/>
<ellipse cx="692.1" cy="1800.3" rx="1.1" ry="2" fill="#ccc" stroke="none"/>
<line x1="684.8" y1="1800.3" x2="659.8" y2="1800.3" stroke="#333" stroke-width="3" stroke-linecap="round"/>
<ellipse cx="657" cy="1800.3" rx="2.4" ry="3.7" fill="#888" stroke="#2c2c2c" stroke-width="1.1"/>
<ellipse cx="680.6" cy="1803" rx="92.7" ry="92.7" stroke-width="1.3"/>
<path d="M968.1 1713.2 L765.7 1786 L983.2 1759.3 A185 185 0 1 0 968.1 1713.2" fill="none"/>
<clipPath id="c2"><circle cx="1150" cy="1679.3" r="185"/></clipPath>
<g clip-path="url(#c2)">
<line x1="1148" y1="1490" x2="1148" y2="1777"/>
<line x1="960" y1="1777" x2="1148" y2="1777"/>
<line x1="1148" y1="1777" x2="1241.2" y2="1839.6"/>
<line x1="1060" y1="1846.7" x2="1240" y2="1846.7"/>
<line x1="1254.8" y1="1500" x2="1254.8" y2="1850"/>
<line x1="1285.6" y1="1500" x2="1285.6" y2="1850"/>
</g>
<ellipse cx="1307.9" cy="1672.8" rx="26" ry="23.9" fill="none" stroke-width="1.25" stroke="#222"/>
<text transform="translate(1308 1684.6) scale(1.1 1)" x="0" y="0" font-size="34" text-anchor="middle" fill="#111" stroke="none">C</text>
<path d="M1006 1653.8 A13 21 0 1 0 1014 1694.2" stroke="#3a3a3a" stroke-width="1.2"/>
<path d="M1010.5 1654.2 A12 20.5 0 0 0 1003 1667 M1003.3 1679 A12 20.5 0 0 0 1017 1693.8" stroke="#3a3a3a" stroke-width="1.1"/>
<path d="M1003.5 1656.5 Q1013 1651 1021.5 1666.5" stroke="#333" stroke-width="5" stroke-linecap="butt"/>
<polygon points="1014.2,1668.2 1026,1662.6 1021.2,1676.8" fill="#333" stroke="none"/>
<path d="M1010.5 1692.2 Q1016.5 1693 1021.5 1686.5" stroke="#333" stroke-width="4.2" stroke-linecap="butt"/>
<polyline points="1016.3,1589 978.4,1672.4 1005.6,1672.9" stroke="#333" stroke-width="5.6" stroke-linecap="round"/>
<polyline points="1016.2,1590 978.7,1672.3 1005,1672.8" stroke="#fff" stroke-width="3.2" stroke-linecap="round"/>
<polyline points="1016,1592 979.5,1671.8 1004.5,1672.6" stroke="#999" stroke-width="0.7" stroke-linecap="round"/>
<line x1="1045" y1="1672.3" x2="1109" y2="1672.3" stroke="#4a4a4a" stroke-width="7.6" stroke-linecap="round"/>
<line x1="1046" y1="1672.3" x2="1108" y2="1672.3" stroke="#9a9a9a" stroke-width="4.6" stroke-linecap="butt" stroke-dasharray="0.9 1.3"/>
<ellipse cx="1039.4" cy="1672.3" rx="5" ry="8" fill="#ddd" stroke="#333" stroke-width="1.4"/>
<ellipse cx="1038.4" cy="1672.3" rx="2.6" ry="4.6" fill="#aaa" stroke="#444" stroke-width="0.9"/>
<line x1="1110.8" y1="1672.3" x2="1206" y2="1672.3" stroke="#333" stroke-width="1.2" stroke-dasharray="3.2 2.2" stroke-linecap="butt"/>
<ellipse cx="1128" cy="1672.6" rx="6.4" ry="9.8" fill="#fff" stroke="#444" stroke-width="2.2"/>
<ellipse cx="1129" cy="1672.6" rx="3.6" ry="6.6" fill="#fff" stroke="#444" stroke-width="1.3"/>
<line x1="1121" y1="1672.3" x2="1135.5" y2="1672.3" stroke="#333" stroke-width="1.2" stroke-dasharray="3.2 2.2" stroke-linecap="butt"/>
<ellipse cx="1161.5" cy="1672.3" rx="10" ry="15.6" fill="#fff" stroke="#3a3a3a" stroke-width="1.9"/>
<ellipse cx="1160" cy="1672.6" rx="3.4" ry="7.4" fill="#fff" stroke="#333" stroke-width="2.4"/>
<line x1="1151" y1="1672.3" x2="1172" y2="1672.3" stroke="#333" stroke-width="1.2" stroke-dasharray="3.2 2.2" stroke-linecap="butt"/>
<ellipse cx="1205" cy="1671.7" rx="5.2" ry="10.6" fill="#fff" stroke="#333" stroke-width="1.4"/>
<line x1="1199.5" y1="1672.3" x2="1206" y2="1672.3" stroke="#333" stroke-width="1.2" stroke-dasharray="3.2 2.2" stroke-linecap="butt"/>
<text transform="translate(1021.8 1583.9) scale(1.08 1)" font-size="21.6" text-anchor="start" fill="#3a3a3a" stroke="none">8#</text>
<text transform="translate(1060.5 1657.4) scale(1.08 1)" font-size="21.6" text-anchor="start" fill="#3a3a3a" stroke="none">1#</text>
<text transform="translate(1115.2 1653) scale(1.08 1)" font-size="21.6" text-anchor="start" fill="#3a3a3a" stroke="none">4#</text>
<text transform="translate(1150.2 1648.8) scale(1.08 1)" font-size="21.6" text-anchor="start" fill="#3a3a3a" stroke="none">5#</text>
</svg>
</body></html>
